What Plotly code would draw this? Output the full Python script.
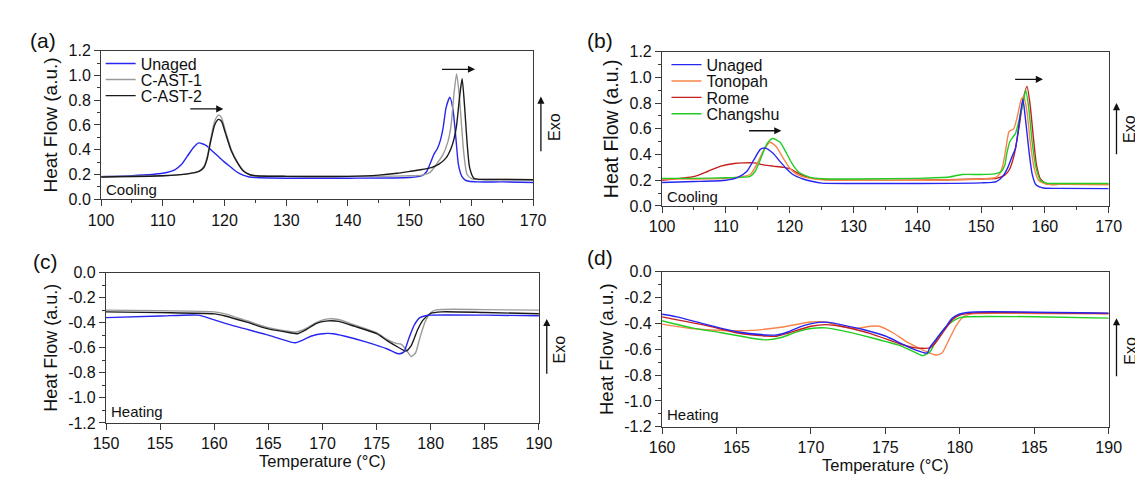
import plotly.graph_objects as go

# ---------------- data ----------------
# Panel (a) cooling
a_T_unaged = [100,105,110,112,113,114,115,115.8,117,118,119,120,121,122,123,124,125,130,140,150,152,152.7,153.5,154.0,154.5,155.0,155.4,155.9,156.5,157.0,157.5,157.9,158.5,159.0,159.6,161,165,170]
a_unaged = [0.182,0.19,0.21,0.24,0.28,0.35,0.42,0.455,0.435,0.39,0.345,0.30,0.26,0.22,0.195,0.18,0.175,0.17,0.17,0.175,0.19,0.22,0.31,0.37,0.41,0.48,0.57,0.74,0.825,0.73,0.49,0.28,0.18,0.155,0.145,0.14,0.14,0.135]

a_T_cast1 = [100,110,114,115.9,116.7,117.2,117.7,118.4,119.0,119.5,120.1,121.1,122.2,123,124,125,130,140,145,150,152,153.3,154.3,155.4,156.2,156.7,157.2,157.6,158.0,158.4,158.8,159.3,160.1,161,165,170]
a_cast1 = [0.185,0.19,0.205,0.23,0.27,0.345,0.475,0.63,0.68,0.66,0.56,0.40,0.29,0.235,0.2,0.19,0.185,0.185,0.185,0.19,0.195,0.217,0.28,0.36,0.465,0.595,0.86,1.013,0.86,0.60,0.36,0.20,0.165,0.16,0.16,0.157]

a_T_cast2 = [100,110,114,115.9,116.7,117.2,117.7,118.4,119.0,119.5,120.1,121.1,122.2,123,124,125,130,140,145,148,150,152,153.5,154.8,155.9,156.7,157.2,157.6,158.1,158.5,158.9,159.3,159.7,160.4,161.4,165,170]
a_cast2 = [0.18,0.19,0.205,0.225,0.26,0.33,0.455,0.60,0.645,0.63,0.54,0.39,0.285,0.23,0.2,0.19,0.185,0.185,0.195,0.21,0.225,0.24,0.255,0.285,0.334,0.41,0.49,0.595,0.83,0.974,0.75,0.46,0.26,0.17,0.16,0.16,0.158]

# Panel (b) cooling
b_T_unaged = [100,105,110,111.8,113.3,114.4,115.4,116.2,117.4,118.5,119.5,120.5,122.1,123.6,125,130,140,150,152.4,153.4,154.2,154.9,155.4,155.8,156.2,156.55,156.95,157.5,158.0,158.6,159.8,162,170]
b_unaged = [0.183,0.19,0.2,0.22,0.27,0.36,0.44,0.45,0.41,0.345,0.29,0.245,0.21,0.19,0.178,0.175,0.175,0.18,0.19,0.23,0.30,0.39,0.45,0.58,0.73,0.83,0.68,0.43,0.25,0.165,0.14,0.137,0.135]

b_T_tonopah = [100,105,110,113.8,114.9,115.9,116.9,117.9,119,120,121,122.6,124.6,130,140,150,152.2,152.9,153.4,153.9,154.4,155.1,155.7,156.3,156.7,157.2,157.7,158.3,159,160.3,163,170]
b_tonopah = [0.21,0.21,0.215,0.245,0.33,0.43,0.495,0.46,0.37,0.295,0.25,0.22,0.205,0.2,0.2,0.21,0.22,0.25,0.315,0.45,0.58,0.60,0.70,0.83,0.85,0.73,0.50,0.30,0.20,0.17,0.168,0.165]

b_T_rome = [100,105.1,107.2,109.2,111.3,112.8,114.4,115.9,117.4,119,120,121.5,123.1,125.1,130,140,150,152.4,153.7,154.4,155.2,156,156.6,157.2,157.7,158.2,158.7,159.3,160.3,163,170]
b_rome = [0.20,0.23,0.27,0.31,0.33,0.335,0.335,0.32,0.31,0.30,0.29,0.25,0.22,0.207,0.2,0.2,0.21,0.215,0.24,0.28,0.40,0.63,0.83,0.93,0.78,0.53,0.315,0.21,0.17,0.17,0.168]

b_T_changshu = [100,105,110,113.8,114.6,115.4,116.4,117.3,118.5,119.5,120.5,121.5,123.1,125.1,130,140,145,147,150,152.1,153.1,153.7,154.0,154.5,154.9,155.4,156.1,156.6,157.0,157.5,158.0,158.6,159.3,160.3,163,170]
b_changshu = [0.215,0.215,0.22,0.23,0.27,0.36,0.48,0.525,0.495,0.41,0.32,0.26,0.225,0.212,0.21,0.215,0.225,0.245,0.245,0.25,0.265,0.315,0.40,0.50,0.53,0.565,0.70,0.80,0.90,0.75,0.50,0.30,0.20,0.178,0.175,0.175]

# Panel (c) heating
c_T_unaged = [150,155,158.5,160,162,165,167,167.5,168,169,170,171,172,174,176,177,177.5,178,178.5,179,179.5,180,185,190]
c_unaged = [-0.36,-0.347,-0.34,-0.378,-0.43,-0.50,-0.553,-0.56,-0.545,-0.506,-0.488,-0.488,-0.506,-0.553,-0.61,-0.648,-0.635,-0.52,-0.416,-0.36,-0.345,-0.34,-0.34,-0.345]

c_T_cast1 = [150,155,160,161,163,165,167,167.5,168.5,169.5,170.5,171.5,173,175,176,176.8,177.2,177.6,178.2,178.6,179.0,179.5,180,180.5,185,190]
c_cast1 = [-0.30,-0.305,-0.314,-0.33,-0.385,-0.44,-0.47,-0.475,-0.445,-0.395,-0.37,-0.375,-0.42,-0.48,-0.535,-0.565,-0.57,-0.6,-0.67,-0.64,-0.52,-0.39,-0.32,-0.298,-0.296,-0.30]

c_T_cast2 = [150,155,160,161,163,165,167,167.7,168.5,169.5,170.5,171.5,173,175,176,177,177.7,178.2,178.8,179.3,180,181,185,190]
c_cast2 = [-0.314,-0.32,-0.33,-0.347,-0.396,-0.45,-0.48,-0.488,-0.455,-0.404,-0.386,-0.39,-0.43,-0.488,-0.545,-0.596,-0.627,-0.583,-0.455,-0.378,-0.326,-0.314,-0.319,-0.329]

# Panel (d) heating
d_T_unaged = [160,161,163,165,167,167.7,168.5,169.5,170.5,171.2,172,173.5,175,176,177,177.8,178,178.5,179,179.5,180,180.5,182,190]
d_unaged = [-0.33,-0.35,-0.41,-0.465,-0.49,-0.49,-0.465,-0.418,-0.393,-0.393,-0.41,-0.448,-0.498,-0.553,-0.605,-0.63,-0.585,-0.51,-0.436,-0.36,-0.328,-0.316,-0.311,-0.321]

d_T_tonopah = [160,162,164,166,168,170,171,172,173,174,174.6,175.5,176.5,177.5,178.4,178.8,179.3,179.8,180.3,181,185,190]
d_tonopah = [-0.406,-0.44,-0.455,-0.455,-0.43,-0.39,-0.39,-0.423,-0.44,-0.423,-0.423,-0.473,-0.548,-0.605,-0.645,-0.63,-0.52,-0.41,-0.345,-0.325,-0.324,-0.326]

d_T_rome = [160,163,165,167,167.7,168.5,170,171,172,174,176,177,178,178.3,179,179.5,180,181,190]
d_rome = [-0.35,-0.418,-0.473,-0.498,-0.5,-0.475,-0.423,-0.41,-0.423,-0.48,-0.56,-0.59,-0.59,-0.56,-0.448,-0.373,-0.336,-0.319,-0.324]

d_T_changshu = [160,162,164,166,167,168,169,170,171,172,174,176,177,177.5,178,178.5,179,179.5,180,180.5,185,190]
d_changshu = [-0.38,-0.435,-0.473,-0.515,-0.528,-0.51,-0.468,-0.44,-0.435,-0.455,-0.51,-0.573,-0.625,-0.65,-0.62,-0.51,-0.436,-0.386,-0.356,-0.349,-0.349,-0.36]

cool_yticks = [0.0, 0.2, 0.4, 0.6, 0.8, 1.0, 1.2]
cool_ylabels = ["0.0", "0.2", "0.4", "0.6", "0.8", "1.0", "1.2"]
heat_yticks = [0.0, -0.2, -0.4, -0.6, -0.8, -1.0, -1.2]
heat_ylabels = ["0.0", "-0.2", "-0.4", "-0.6", "-0.8", "-1.0", "-1.2"]

legend_a = ["Unaged", "C-AST-1", "C-AST-2"]
legend_b = ["Unaged", "Tonopah", "Rome", "Changshu"]

# ---------------- styling ----------------
C_BLUE = "#2626f0"
C_GRAY = "#9a9a9a"
C_BLACK = "#1a1a1a"
C_ORANGE = "#f7844a"
C_RED = "#c41f1f"
C_GREEN = "#22cc22"
FONT = "Arial, Liberation Sans, sans-serif"
AX = "#3a3a3a"
LW = 1.4

W, H = 1143, 477
def dx(p0, p1):
    return [p0 / W, p1 / W]
def dy(top, bottom):
    return [1 - bottom / H, 1 - top / H]

A_X = dx(82, 524); A_Y = dy(36, 190)
B_X = dx(656, 1113); B_Y = dy(37, 197)
C_X = dx(87, 530); C_Y = dy(266, 422)
D_X = dx(656, 1113); D_Y = dy(265, 426)

fig = go.Figure()

def add(x, y, color, name, xa, ya):
    fig.add_trace(go.Scatter(
        x=x, y=y, mode="lines", name=name,
        line=dict(color=color, width=LW, shape="spline", smoothing=0.6),
        xaxis=xa, yaxis=ya, showlegend=False,
    ))

add(a_T_unaged, a_unaged, C_BLUE, "Unaged", "x", "y")
add(a_T_cast1, a_cast1, C_GRAY, "C-AST-1", "x", "y")
add(a_T_cast2, a_cast2, C_BLACK, "C-AST-2", "x", "y")

add(b_T_rome, b_rome, C_RED, "Rome", "x2", "y2")
add(b_T_tonopah, b_tonopah, C_ORANGE, "Tonopah", "x2", "y2")
add(b_T_changshu, b_changshu, C_GREEN, "Changshu", "x2", "y2")
add(b_T_unaged, b_unaged, C_BLUE, "Unaged", "x2", "y2")

add(c_T_cast1, c_cast1, C_GRAY, "C-AST-1", "x3", "y3")
add(c_T_cast2, c_cast2, C_BLACK, "C-AST-2", "x3", "y3")
add(c_T_unaged, c_unaged, C_BLUE, "Unaged", "x3", "y3")

add(d_T_tonopah, d_tonopah, C_ORANGE, "Tonopah", "x4", "y4")
add(d_T_changshu, d_changshu, C_GREEN, "Changshu", "x4", "y4")
add(d_T_rome, d_rome, C_RED, "Rome", "x4", "y4")
add(d_T_unaged, d_unaged, C_BLUE, "Unaged", "x4", "y4")

# one legend per entry so the entries can sit as tightly as in the original
legend_layout = {}
entries = [(legend_a, [C_BLUE, C_GRAY, C_BLACK], "x", "y", 81.5, 49.3, 16.7),
           (legend_b, [C_BLUE, C_ORANGE, C_RED, C_GREEN], "x2", "y2", 660.5, 50.5, 17.0)]
k = 0
for names, cols, xa, ya, lx, ly0, step in entries:
    for i, (nm, col) in enumerate(zip(names, cols)):
        k += 1
        key = "legend" if k == 1 else f"legend{k}"
        fig.add_trace(go.Scatter(x=[None], y=[None], mode="lines", name=nm,
                                 line=dict(color=col, width=LW), xaxis=xa, yaxis=ya,
                                 legend=key, showlegend=True))
        legend_layout[key] = dict(x=lx / W, y=1 - (ly0 + i * step) / H,
                                  xanchor="left", yanchor="middle",
                                  bgcolor="rgba(0,0,0,0)", borderwidth=0,
                                  font=dict(family=FONT, size=16, color="#111"),
                                  itemwidth=30)

tickfont = dict(family=FONT, size=16, color="#111")

def xaxis(dom, anchor, rng, dtick, minor_dtick, title=None):
    d = dict(domain=dom, anchor=anchor, range=rng, dtick=dtick, tick0=rng[0],
             showline=True, linecolor=AX, linewidth=1.2, mirror=True,
             ticks="outside", ticklen=6, tickwidth=1.2, tickcolor=AX,
             showgrid=False, zeroline=False, tickfont=tickfont)
    if minor_dtick:
        d["minor"] = dict(dtick=minor_dtick, ticks="outside", ticklen=3,
                          tickwidth=1.2, tickcolor=AX, showgrid=False)
    if title:
        d["title"] = dict(text=title, font=dict(family=FONT, size=16.5, color="#111"), standoff=4)
    return d

def yaxis(dom, anchor, rng, tv, tt, tsize):
    return dict(domain=dom, anchor=anchor, range=rng, tickvals=tv, ticktext=tt,
                showline=True, linecolor=AX, linewidth=1.2, mirror=True,
                ticks="outside", ticklen=6, tickwidth=1.2, tickcolor=AX,
                minor=dict(dtick=0.1, ticks="outside", ticklen=3, tickwidth=1.2,
                           tickcolor=AX, showgrid=False),
                showgrid=False, zeroline=False, tickfont=tickfont,
                title=dict(text="Heat Flow (a.u.)",
                           font=dict(family=FONT, size=tsize, color="#111"), standoff=5))

fig.update_layout(
    width=W, height=H, margin=dict(l=0, r=0, t=0, b=0),
    paper_bgcolor="white", plot_bgcolor="white",
    font=dict(family=FONT, size=16, color="#111"),
    xaxis=xaxis(A_X, "y", [100, 170], 10, 5),
    yaxis=yaxis(A_Y, "x", [0, 1.2], cool_yticks, cool_ylabels, 19),
    xaxis2=xaxis(B_X, "y2", [100, 170], 10, 5),
    yaxis2=yaxis(B_Y, "x2", [0, 1.2], cool_yticks, cool_ylabels, 19.5),
    xaxis3=xaxis(C_X, "y3", [150, 190], 5, None, "Temperature (°C)"),
    yaxis3=yaxis(C_Y, "x3", [-1.2, 0], heat_yticks, heat_ylabels, 18),
    xaxis4=xaxis(D_X, "y4", [160, 190], 5, None, "Temperature (°C)"),
    yaxis4=yaxis(D_Y, "x4", [-1.2, 0], heat_yticks, heat_ylabels, 18.5),
    **legend_layout,
)

ann = []
# panel labels
for txt, x, y in [("(a)", 23, 25), ("(b)", 592, 25), ("(c)", 25, 255), ("(d)", 592, 250)]:
    ann.append(dict(text=txt, x=x / W, y=1 - y / H, xref="paper", yref="paper",
                    showarrow=False, font=dict(family=FONT, size=21, color="#111"),
                    xanchor="center", yanchor="middle"))
# Cooling / Heating
for txt, xr, yr, yv in [("Cooling", "x domain", "y", 0.078), ("Cooling", "x2 domain", "y2", 0.073),
                        ("Heating", "x3 domain", "y3", -1.108), ("Heating", "x4 domain", "y4", -1.105)]:
    ann.append(dict(text=txt, x=0.006, y=yv, xref=xr, yref=yr, showarrow=False,
                    xanchor="left", yanchor="middle",
                    font=dict(family=FONT, size=15, color="#111")))
# horizontal shift arrows
for xa, ya, x0, x1, yv in [("x", "y", 114.2, 119.8, 0.73), ("x", "y", 155.0, 160.6, 1.05),
                           ("x2", "y2", 113.4, 118.7, 0.585), ("x2", "y2", 155.1, 159.7, 0.985)]:
    ann.append(dict(x=x1, y=yv, ax=x0, ay=yv, xref=xa, yref=ya, axref=xa, ayref=ya,
                    text="", showarrow=True, arrowhead=2, arrowsize=1.1, arrowwidth=1.3,
                    arrowcolor="#111"))
# Exo arrows and labels
for xr, yr, wpx, y0, y1, ytxt in [("x domain", "y", 442, 0.376, 0.83, 0.58),
                                  ("x2 domain", "y2", 457, 0.39, 0.80, 0.60),
                                  ("x3 domain", "y3", 443, -0.82, -0.37, -0.61),
                                  ("x4 domain", "y4", 457, -0.82, -0.36, -0.61)]:
    xa = 1 + 8 / wpx
    ann.append(dict(x=xa, y=y1, ax=xa, ay=y0, xref=xr, yref=yr, axref=xr, ayref=yr,
                    text="", showarrow=True, arrowhead=2, arrowsize=1.1, arrowwidth=1.3,
                    arrowcolor="#111"))
    ann.append(dict(text="Exo", x=1 + 22 / wpx, y=ytxt, xref=xr, yref=yr, showarrow=False,
                    textangle=-90, xanchor="center", yanchor="middle",
                    font=dict(family=FONT, size=16, color="#111")))
fig.update_layout(annotations=ann)

fig.write_html("out.html")
